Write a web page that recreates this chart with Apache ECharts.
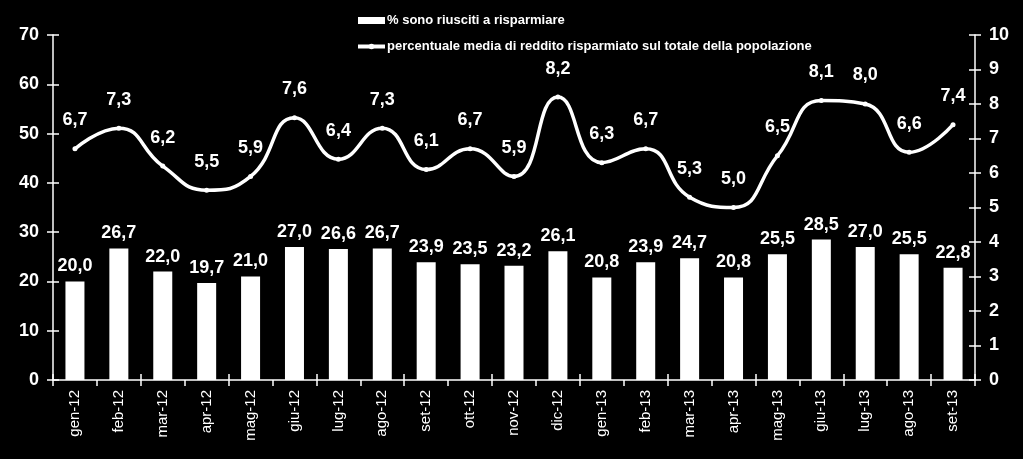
<!DOCTYPE html>
<html><head><meta charset="utf-8">
<script src="https://cdn.jsdelivr.net/npm/echarts@6/dist/echarts.min.js"></script>
<style>html,body{margin:0;padding:0;background:#000}#c{width:1023px;height:459px}</style>
</head><body><div id="c"></div>
<script>
const categories = ['gen-12','feb-12','mar-12','apr-12','mag-12','giu-12','lug-12','ago-12','set-12','ott-12','nov-12','dic-12','gen-13','feb-13','mar-13','apr-13','mag-13','giu-13','lug-13','ago-13','set-13'];
const barValues = [20.0,26.7,22.0,19.7,21.0,27.0,26.6,26.7,23.9,23.5,23.2,26.1,20.8,23.9,24.7,20.8,25.5,28.5,27.0,25.5,22.8];
const lineValues = [6.7,7.3,6.2,5.5,5.9,7.6,6.4,7.3,6.1,6.7,5.9,8.2,6.3,6.7,5.3,5.0,6.5,8.1,8.0,6.6,7.4];
const barName = '% sono riusciti a risparmiare';
const lineName = 'percentuale media di reddito risparmiato sul totale della popolazione';

const FONT = '"Liberation Sans", Arial, sans-serif';
const fmt = p => p.value.toFixed(1).replace('.', ',');
const axisLine = {show:true, lineStyle:{color:'#fff', width:1.5}};
const chart = echarts.init(document.getElementById('c'));
chart.setOption({
  backgroundColor:'#000',
  animation:false,
  textStyle:{fontFamily:FONT},
  legend:{
    orient:'vertical', left:351, top:9, itemGap:13, itemWidth:27, itemHeight:7,
    textStyle:{color:'#fff', fontSize:13, fontWeight:'bold', fontFamily:FONT, padding:[0,0,0,-3]},
    data:[{name:barName, icon:'rect', itemStyle:{color:'#fff'}},
          {name:lineName, itemStyle:{color:'#fff'}, lineStyle:{color:'#fff', width:4}}]
  },
  grid:{left:53, right:48, top:35, bottom:79},
  xAxis:[{
    type:'category', data:categories, boundaryGap:true,
    axisLine:axisLine,
    axisTick:{show:true, alignWithLabel:false, length:6, lineStyle:{color:'#fff', width:1.5}},
    axisLabel:{color:'#fff', rotate:90, fontSize:15, fontFamily:FONT, margin:10}
  },{
    type:'category', data:categories, position:'bottom', boundaryGap:true,
    axisLine:{show:false},
    axisTick:{show:true, inside:true, length:6, lineStyle:{color:'#fff', width:1.5}},
    axisLabel:{show:false}
  }],
  yAxis:[{
    type:'value', min:0, max:70, interval:10, position:'left',
    axisLine:axisLine, splitLine:{show:false},
    axisTick:{show:true, length:6, lineStyle:{color:'#fff', width:1.5}},
    axisLabel:{color:'#fff', fontSize:18, fontWeight:'bold', fontFamily:FONT, margin:14}
  },{
    type:'value', min:0, max:10, interval:1, position:'right',
    axisLine:axisLine, splitLine:{show:false},
    axisTick:{show:true, length:6, lineStyle:{color:'#fff', width:1.5}},
    axisLabel:{color:'#fff', fontSize:18, fontWeight:'bold', fontFamily:FONT, margin:14}
  },{
    type:'value', min:0, max:70, interval:10, position:'left',
    axisLine:{show:false}, splitLine:{show:false},
    axisTick:{show:true, inside:true, length:6, lineStyle:{color:'#fff', width:1.5}},
    axisLabel:{show:false}
  },{
    type:'value', min:0, max:10, interval:1, position:'right',
    axisLine:{show:false}, splitLine:{show:false},
    axisTick:{show:true, inside:true, length:6, lineStyle:{color:'#fff', width:1.5}},
    axisLabel:{show:false}
  }],
  series:[{
    name:barName, type:'bar', data:barValues, yAxisIndex:0, barWidth:19,
    itemStyle:{color:'#fff'},
    label:{show:true, position:'top', distance:6, color:'#fff', fontSize:18, fontWeight:'bold', fontFamily:FONT, formatter:fmt}
  },{
    name:lineName, type:'line', data:lineValues, yAxisIndex:1, smooth:0.5,
    symbol:'circle', symbolSize:5, showAllSymbol:true,
    lineStyle:{color:'#fff', width:3.5}, itemStyle:{color:'#fff'},
    label:{show:true, position:'top', distance:17, color:'#fff', fontSize:18, fontWeight:'bold', fontFamily:FONT, formatter:fmt}
  }]
});
</script></body></html>
